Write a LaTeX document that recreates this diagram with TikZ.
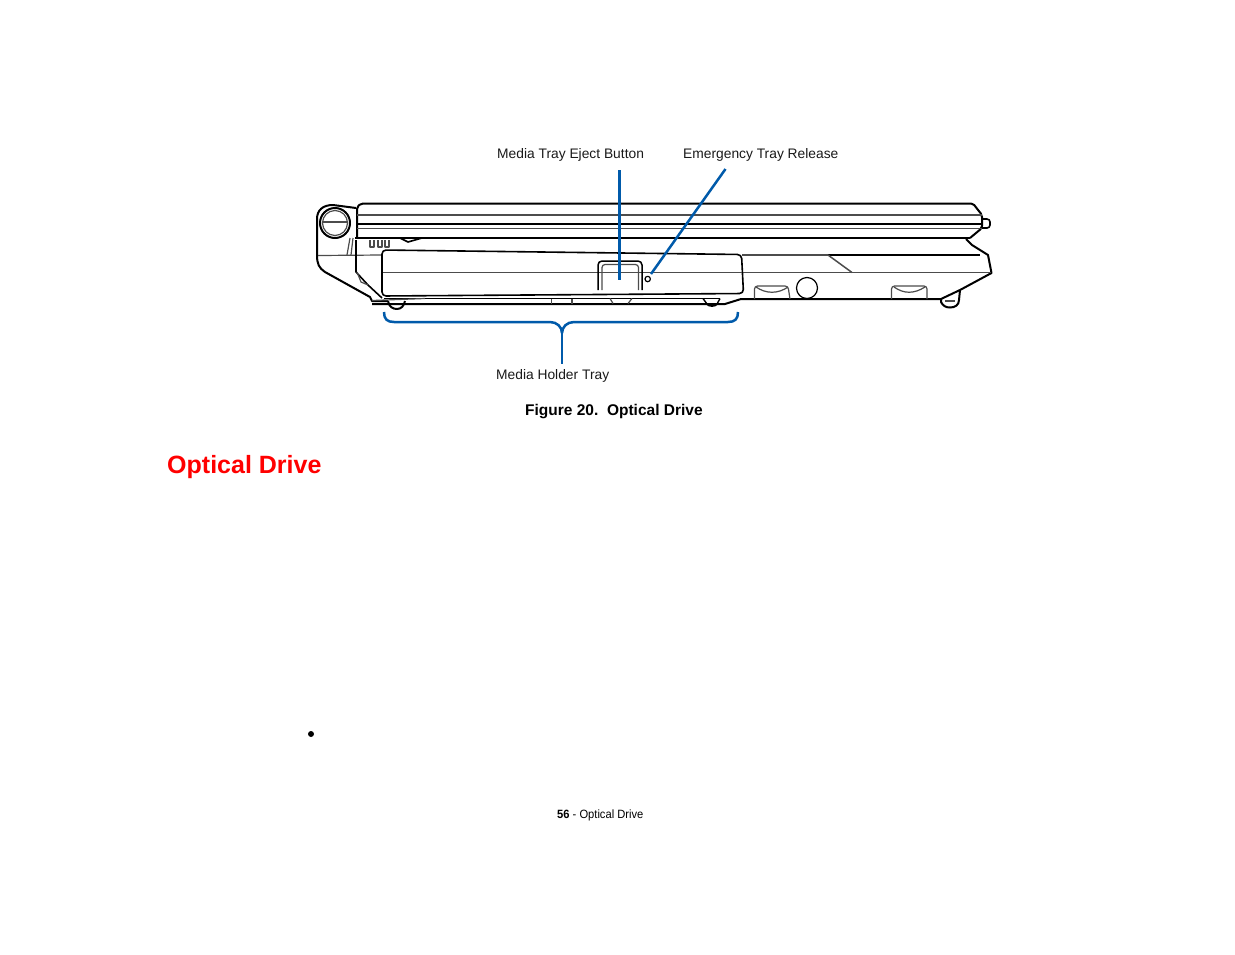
\documentclass[tikz,border=0pt]{standalone}
\usepackage{fontspec}
\setmainfont{Liberation Sans}
\newfontfamily\narrowfont[FakeStretch=0.93]{Liberation Sans}
\definecolor{calloutblue}{RGB}{0,90,170}
\tikzset{
  outline/.style={black,line width=2pt,line join=round},
  fineline/.style={black!70,line width=1.2pt,line join=round},
  callout/.style={calloutblue,line width=2.5pt},
  calloutlabel/.style={inner sep=0pt,font=\fontsize{13.8}{16}\selectfont,text=black!90},
}
\begin{document}
\begin{tikzpicture}[x=1pt,y=-1pt]
  \useasboundingbox (0,0) rectangle (1235,954);
  % lid
  \draw[outline,rounded corners=2pt] (357,237) -- (357,207) -- (361,203.5) -- (973,203.5) -- (982,215) -- (982,228) -- (970,238);
  \draw[outline,line width=1.6pt,rounded corners=3pt] (982,219) -- (990,219) -- (990,228) -- (982,228);
  \draw[fineline] (357,215) -- (982,215);
  \draw[outline] (357,223.5) -- (982,223.5);
  \draw[fineline] (357,228.5) -- (982,228.5);
  \draw[black,line width=2.6pt] (355,238) -- (970,238);
  % hinge
  \draw[outline] (356,208) -- (333,205) .. controls (323,205) and (317,210) .. (317,219) -- (317,255) .. controls (317,264) and (319,268) .. (325,272) -- (370,297) -- (372,301) -- (388,301);
  \draw[outline] (335,223) circle (15);
  \draw[fineline] (335,223) circle (12.5);
  \draw[fineline] (322,222) -- (348,222);
  \draw[fineline] (318,255.5) -- (382,255);
  \draw[fineline] (350,238) -- (347,255) (353,238) -- (351,255);
  % base
  \draw[outline] (966,239) -- (972,245) -- (988,255) -- (991.5,273) -- (960,290) -- (941,299) -- (741,299) -- (725,304) -- (372,304);
  \draw[outline,line width=1.6pt] (356,240) -- (356,272) -- (368,285) -- (382,298);
  \draw[fineline] (357,272) -- (361,282) -- (368,285);
  \draw[outline,line width=1.6pt] (400,238) -- (408,242) -- (422,238);
  \foreach \x in {370,378,385} {
    \draw[fineline] (\x,240) -- (\x,247) -- (\x+4,247) -- (\x+4,240);
  }
  \draw[fineline] (742,255) -- (828,255);
  \draw[outline,line width=1.3pt] (828,255) -- (980,255);
  \draw[fineline] (742,272.5) -- (852,272.5) -- (991,272.5);
  \draw[fineline,line width=1.5pt] (828,255) -- (852,272.5);
  % tray
  \draw[outline,line width=1.6pt,rounded corners=4pt] (382,296) -- (382,250) -- (741.5,254.5) -- (743.5,293.5) -- cycle;
  \draw[fineline] (383,272.3) -- (742,272.3);
  \draw[outline,line width=1.3pt] (384,298.5) -- (720,298.5);
  \draw[fineline] (372,300.5) -- (425,298.5);
  \foreach \x in {551.5,572} {
    \draw[fineline] (\x,298.5) -- (\x,304);
  }
  \draw[fineline] (610,298.5) -- (613,303.5) (632,298.5) -- (628,303.5);
  % eject button and release hole
  \draw[outline,line width=1.5pt,rounded corners=4pt] (598,290) -- (598,261) -- (642,261) -- (642,290);
  \draw[fineline,rounded corners=3pt] (602,290) -- (602,264.5) -- (638.5,264.5) -- (638.5,290);
  \draw[outline,line width=1.2pt] (647.7,279) circle (2.7);
  % feet
  \draw[outline] (388,301) .. controls (389,307) and (393,309) .. (397,309) .. controls (401,309) and (404,306) .. (405,301);
  \draw[outline,line width=1.4pt] (703,298.5) -- (707,304) (720,298.5) -- (717,304);
  \draw[outline] (707,304) .. controls (709,306.5) and (715,306.5) .. (717,304);
  \draw[outline] (941,299) -- (941,302) .. controls (943,306) and (946,307.5) .. (950,307.5) .. controls (955,307.5) and (959,305) .. (959,300) -- (960,290);
  \draw[fineline] (945,301) -- (955,301);
  % vents
  \draw[fineline,rounded corners=3pt] (754.5,299) -- (754.5,286) -- (788,286) -- (790,299);
  \draw[fineline] (756,287) .. controls (766,294) and (778,294) .. (788,287);
  \draw[fineline,rounded corners=3pt] (891.5,299) -- (891.5,286) -- (927,286) -- (927,299);
  \draw[fineline] (894,287) .. controls (904,294) and (914,294) .. (925,287);
  \draw[outline,line width=1.2pt] (807,288) circle (10.5);
  % labels
  \node[calloutlabel,anchor=base west] (ejectlabel) at (497,158) {Media Tray Eject Button};
  \node[calloutlabel,anchor=base west] (releaselabel) at (683,158) {Emergency Tray Release};
  \node[calloutlabel,anchor=base west] (holderlabel) at (496,379) {Media Holder Tray};
  \node[inner sep=0pt,anchor=base west,font=\fontsize{15.5}{18}\selectfont\bfseries] (figlabel) at (525,415) {Figure 20.\ \ Optical Drive};
  \node[inner sep=0pt,anchor=base west,text=red,font=\fontsize{25}{28}\selectfont\bfseries] (headlabel) at (167,473) {Optical Drive};
  \node[circle,fill=black,inner sep=0pt,minimum size=6pt] (bulletdot) at (311,734) {};
  \node[inner sep=0pt,anchor=base west,font=\fontsize{12}{14}\selectfont\narrowfont] (pagelabel) at (557,818) {\textbf{56} - Optical Drive};
  % callouts
  \coordinate (ejecttop) at (619.5,170);
  \coordinate (ejectend) at (619.5,280);
  \coordinate (releasetop) at (725.5,169);
  \coordinate (releaseend) at (651,274);
  \coordinate (braceleft) at (384,312);
  \coordinate (braceright) at (738,312);
  \coordinate (bracetip) at (562,333);
  \coordinate (stemend) at (562,364);
  \draw[callout] (ejecttop) -- (ejectend);
  \draw[callout] (releasetop) -- (releaseend);
  \draw[callout] (bracetip) -- (stemend);
  \draw[callout] (braceleft) .. controls (384,319) and (387,322) .. (394,322) -- (550,322) .. controls (557,322) and (562,327) .. (bracetip);
  \draw[callout] (braceright) .. controls (738,319) and (735,322) .. (728,322) -- (574,322) .. controls (567,322) and (562,327) .. (bracetip);
\end{tikzpicture}
\end{document}
